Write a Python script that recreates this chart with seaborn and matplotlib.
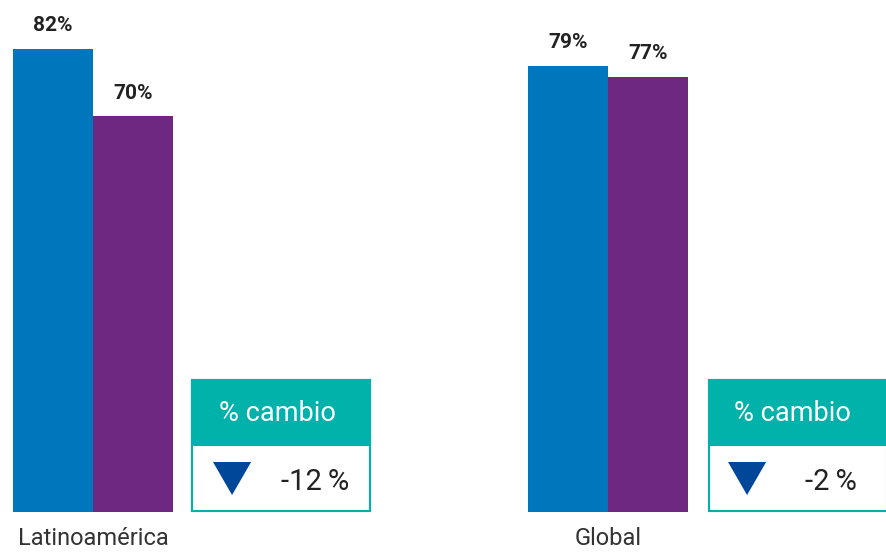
import matplotlib
matplotlib.use("Agg")
import matplotlib.pyplot as plt
from matplotlib.patches import Rectangle, Polygon
import seaborn as sns
import pandas as pd

# Data
regions = ["Latinoamérica", "Global"]
series = ["Antes", "Después"]
values_before = [82, 79]
values_after = [70, 77]

colors = ["#0076BC", "#6E2882"]
teal = "#00B2A9"
navy = "#00479A"

df = pd.DataFrame({
    "region": regions * 2,
    "serie": [series[0]] * 2 + [series[1]] * 2,
    "valor": values_before + values_after,
})

sns.set_theme(style="white")
plt.rcParams["font.family"] = ["Roboto", "DejaVu Sans"]

fig = plt.figure(figsize=(8.87, 5.54), dpi=100)
ax = fig.add_axes([0, 42 / 554, 1, 512 / 554])

sns.barplot(data=df, x="region", y="valor", hue="serie", palette=colors,
            width=0.3107, saturation=1, legend=False, linewidth=0, ax=ax)

ax.set_xlim(-0.1806, 1.5417)
ax.set_ylim(0, 90.6)
ax.set_xlabel("")
ax.set_ylabel("")
ax.set_yticks([])
sns.despine(ax=ax, left=True, bottom=True)
ax.tick_params(axis="x", length=0, pad=11, labelsize=17, colors="#333333")
for lbl in ax.get_xticklabels():
    lbl.set_fontweight(350)

# Value labels above each bar
for cont in ax.containers:
    ax.bar_label(cont, labels=[f"{v:.0f}%" for v in cont.datavalues],
                 padding=10, fontsize=15, fontweight="bold", color="#222222")

# "% cambio" boxes
for i, (b, a) in enumerate(zip(values_before, values_after)):
    x0 = i + 0.1922 + 0.004 * i
    w = 0.3456
    ax.add_patch(Rectangle((x0, 0.2), w, 23.2, facecolor="white",
                           edgecolor=teal, linewidth=1.5, clip_on=False, zorder=3))
    ax.add_patch(Rectangle((x0, 11.9), w, 11.5, facecolor=teal,
                           edgecolor=teal, linewidth=1.5, clip_on=False, zorder=4))
    ax.text(i + 0.358, 17.5, "% cambio", color="white", fontsize=19.5,
            ha="center", va="center", zorder=5)
    tx = i + 0.270
    ax.add_patch(Polygon([(tx - 0.037, 8.85), (tx + 0.037, 8.85), (tx, 3.0)],
                         closed=True, facecolor=navy, edgecolor="none", zorder=5))
    ax.text(i + 0.432, 5.3, f"{a - b}\u2009%", color="#222222", fontsize=21,
            ha="center", va="center", zorder=5)

fig.savefig("out.png", dpi=100)
